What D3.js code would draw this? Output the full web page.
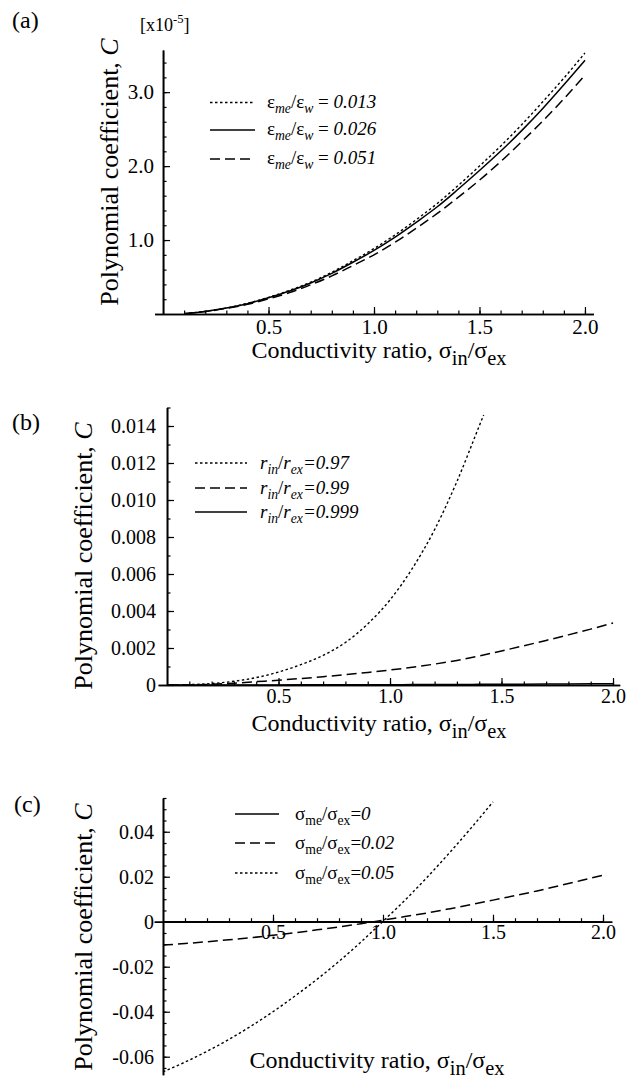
<!DOCTYPE html>
<html>
<head>
<meta charset="utf-8">
<script src="https://cdn.jsdelivr.net/npm/d3@7"></script>
<style>
  body { margin: 0; background: #fff; }
  svg, svg text { font-family: "Liberation Serif", "DejaVu Serif", "Times New Roman", Times, serif; }
</style>
</head>
<body>
<svg id="fig" width="634" height="1084"></svg>
<script>
// ---- panel (a): C [x1e-5] vs conductivity ratio, three eps_me/eps_w
const xA = [0.1, 0.2, 0.3, 0.4, 0.5, 0.6, 0.7, 0.8, 0.9, 1.0, 1.1, 1.2, 1.3, 1.4, 1.5, 1.6, 1.7, 1.8, 1.9, 2.0];
const cA013 = [0.005, 0.035, 0.08, 0.145, 0.225, 0.32, 0.43, 0.565, 0.72, 0.885, 1.07, 1.275, 1.495, 1.74, 2.0, 2.27, 2.56, 2.87, 3.19, 3.53];
const cA026 = [0.005, 0.035, 0.08, 0.14, 0.22, 0.31, 0.42, 0.55, 0.70, 0.86, 1.04, 1.24, 1.45, 1.69, 1.94, 2.20, 2.48, 2.78, 3.10, 3.43];
const cA051 = [0.005, 0.033, 0.075, 0.13, 0.205, 0.29, 0.395, 0.515, 0.655, 0.80, 0.97, 1.16, 1.36, 1.58, 1.81, 2.06, 2.33, 2.61, 2.91, 3.23];
const yTicksA = [1.0, 2.0, 3.0];
const yLabelsA = ['1.0', '2.0', '3.0'];

// ---- panel (b): three r_in/r_ex
const xB = [0, 0.1, 0.2, 0.3, 0.4, 0.5, 0.6, 0.7, 0.8, 0.9, 1.0, 1.1, 1.2, 1.3, 1.4, 1.5, 1.6, 1.7, 1.8, 1.9, 2.0];
const xB097 = [0, 0.1, 0.2, 0.3, 0.4, 0.5, 0.6, 0.7, 0.8, 0.9, 1.0, 1.1, 1.2, 1.3, 1.4, 1.42];
const cB097 = [0, 0.00002, 0.00008, 0.0002, 0.0004, 0.0007, 0.0011, 0.0016, 0.0023, 0.0033, 0.0046, 0.0063, 0.0084, 0.0110, 0.0140, 0.0146];
const cB099 = [0, 0.00001, 0.00004, 0.0001, 0.00018, 0.00026, 0.00035, 0.00045, 0.00056, 0.00068, 0.00081, 0.00096, 0.00113, 0.00133, 0.00157, 0.00184, 0.00212, 0.00241, 0.00271, 0.00302, 0.00335];
const cB0999 = [0, 0, 0.000001, 0.000002, 0.000003, 0.000005, 0.000007, 0.00001, 0.000012, 0.000015, 0.000018, 0.000022, 0.000026, 0.00003, 0.000035, 0.00004, 0.000046, 0.000052, 0.000058, 0.000065, 0.000072];
const yTicksB = [0, 0.002, 0.004, 0.006, 0.008, 0.010, 0.012, 0.014];
const yLabelsB = ['0', '0.002', '0.004', '0.006', '0.008', '0.010', '0.012', '0.014'];

// ---- panel (c): three sigma_me/sigma_ex
const xC = [0, 0.1, 0.2, 0.3, 0.4, 0.5, 0.6, 0.7, 0.8, 0.9, 1.0, 1.1, 1.2, 1.3, 1.4, 1.5, 1.6, 1.7, 1.8, 1.9, 2.0];
const xC005 = [0, 0.1, 0.2, 0.3, 0.4, 0.5, 0.6, 0.7, 0.8, 0.9, 1.0, 1.1, 1.2, 1.3, 1.4, 1.5];
const cC0 = [0, 0, 0, 0, 0, 0, 0, 0, 0, 0, 0, 0, 0, 0, 0, 0, 0, 0, 0, 0, 0];
const cC002 = [-0.0104, -0.0097, -0.0089, -0.0080, -0.0071, -0.0060, -0.0049, -0.0036, -0.0023, -0.0009, 0.0007, 0.0023, 0.0039, 0.0057, 0.0076, 0.0096, 0.0116, 0.0137, 0.0160, 0.0183, 0.0207];
const cC005 = [-0.0667, -0.0624, -0.0576, -0.0523, -0.0464, -0.0400, -0.0330, -0.0256, -0.0176, -0.0090, 0.0002, 0.0096, 0.0197, 0.0304, 0.0416, 0.0533];
const yTicksC = [-0.06, -0.04, -0.02, 0, 0.02, 0.04];
const yLabelsC = ['-0.06', '-0.04', '-0.02', '0', '0.02', '0.04'];

const xTicks = [0.5, 1.0, 1.5, 2.0];
const xLabels = ['0.5', '1.0', '1.5', '2.0'];

const FONT = '"Liberation Serif", "DejaVu Serif", "Times New Roman", Times, serif';
const svg = d3.select('#fig').attr('font-family', FONT);

const styles = {
  dotted: { dash: '2.5,2.5', width: 1.4 },
  solid: { dash: null, width: 1.5 },
  dashed: { dash: '10,5', width: 1.5 }
};

// writes text made of parts, with sub / superscripts via dy
function rich(text, parts, size, subScale) {
  let off = 0;
  text.attr('font-family', FONT);
  parts.forEach(p => {
    const ts = text.append('tspan').text(p.t);
    if (p.it) ts.attr('font-style', 'italic');
    let target = 0;
    if (p.sub) { target = size * 0.28; ts.attr('font-size', size * (subScale || 0.72)); }
    if (p.sup) { target = -size * 0.42; ts.attr('font-size', size * 0.7); }
    if (target - off !== 0) ts.attr('dy', target - off);
    off = target;
  });
}

const xTitle = [{ t: 'Conductivity ratio, σ' }, { t: 'in', sub: true }, { t: '/σ' }, { t: 'ex', sub: true }];
const yTitle = [{ t: 'Polynomial coefficient, ' }, { t: 'C', it: true }];

function drawPanel(p) {
  const g = svg.append('g');
  const x = p.x, y = p.y;

  // y axis: minor then major ticks, pointing inward
  g.append('g')
    .attr('transform', `translate(${x(0)},0)`)
    .call(d3.axisLeft(y).tickValues(p.yMinor).tickSize(-3.5).tickSizeOuter(0).tickFormat(''));
  g.append('g')
    .attr('class', 'ymaj')
    .attr('transform', `translate(${x(0)},0)`)
    .call(d3.axisLeft(y).tickValues(p.yTicks).tickSize(-7).tickSizeOuter(0)
      .tickPadding(p.yPad).tickFormat((d, i) => p.yLabels[i]));

  // x axis at C = 0
  g.append('g')
    .attr('transform', `translate(0,${y(0)})`)
    .call(d3.axisBottom(x).tickValues(d3.range(0.1, 2.01, 0.1)).tickSize(-3.5).tickSizeOuter(0).tickFormat(''));
  g.append('g')
    .attr('class', 'xmaj')
    .attr('transform', `translate(0,${y(0)})`)
    .call(d3.axisBottom(x).tickValues(xTicks).tickSize(-7).tickSizeOuter(0)
      .tickPadding(p.xPad).tickFormat((d, i) => xLabels[i]));

  g.selectAll('g').attr('font-family', FONT);
  g.selectAll('.domain').attr('stroke-width', 1.6);
  g.selectAll('.tick line').attr('stroke-width', 1.2);
  g.selectAll('.tick text')
    .attr('font-family', FONT)
    .attr('font-size', p.tickSize)
    .attr('fill', '#000');
  g.selectAll('.xmaj .tick text').attr('dy', '0.71em');

  // curves
  const line = d3.line().x(d => x(d[0])).y(d => y(d[1])).curve(d3.curveMonotoneX);
  p.series.forEach(s => {
    const st = styles[s.style];
    g.append('path')
      .datum(d3.zip(s.x, s.c))
      .attr('d', line)
      .attr('fill', 'none')
      .attr('stroke', '#000')
      .attr('stroke-width', st.width)
      .attr('stroke-dasharray', st.dash);
  });

  // legend
  p.series.forEach((s, i) => {
    const st = styles[s.style];
    const ly = p.legend.rows[i];
    g.append('line')
      .attr('x1', p.legend.x1).attr('x2', p.legend.x2)
      .attr('y1', ly).attr('y2', ly)
      .attr('stroke', '#000')
      .attr('stroke-width', st.width)
      .attr('stroke-dasharray', st.dash);
    const t = g.append('text')
      .attr('x', p.legend.tx)
      .attr('y', ly + p.legend.base)
      .attr('font-size', p.legend.size);
    rich(t, s.label, p.legend.size);
  });

  // panel tag
  g.append('text').attr('x', p.tag[0]).attr('y', p.tag[1])
    .attr('font-family', FONT)
    .attr('font-size', 24).text(p.name);

  // axis titles
  const yt = g.append('text')
    .attr('transform', `translate(${p.yTitle[0]},${p.yTitle[1]}) rotate(-90)`)
    .attr('text-anchor', 'middle')
    .attr('font-size', 26);
  rich(yt, yTitle, 26);

  const xt = g.append('text')
    .attr('x', p.xTitle[0]).attr('y', p.xTitle[1])
    .attr('text-anchor', 'middle')
    .attr('font-size', 24);
  rich(xt, xTitle, 24, 0.85);
  return g;
}

// (a)
const gA = drawPanel({
  name: '(a)', tag: [12, 28],
  x: d3.scaleLinear().domain([-0.04, 2.04]).range([154.6, 593.4]),
  y: d3.scaleLinear().domain([0, 3.57]).range([314, 50]),
  yTicks: yTicksA, yLabels: yLabelsA, yMinor: d3.range(0.2, 3.5, 0.2),
  tickSize: 21, yPad: 9, xPad: 5,
  yTitle: [118, 172], xTitle: [379, 358],
  legend: { x1: 210, x2: 255, tx: 267, base: 5, size: 19, rows: [102.5, 130, 159] },
  series: [
    { x: xA, c: cA013, style: 'dotted', label: [{ t: 'ε' }, { t: 'me', sub: true, it: true }, { t: '/ε' }, { t: 'w', sub: true, it: true }, { t: ' = ' }, { t: '0.013', it: true }] },
    { x: xA, c: cA026, style: 'solid', label: [{ t: 'ε' }, { t: 'me', sub: true, it: true }, { t: '/ε' }, { t: 'w', sub: true, it: true }, { t: ' = ' }, { t: '0.026', it: true }] },
    { x: xA, c: cA051, style: 'dashed', label: [{ t: 'ε' }, { t: 'me', sub: true, it: true }, { t: '/ε' }, { t: 'w', sub: true, it: true }, { t: ' = ' }, { t: '0.051', it: true }] }
  ]
});
const unit = gA.append('text').attr('x', 140).attr('y', 31).attr('font-size', 18);
rich(unit, [{ t: '[x10' }, { t: '-5', sup: true }, { t: ']' }], 18);

// (b)
drawPanel({
  name: '(b)', tag: [12, 430],
  x: d3.scaleLinear().domain([-0.04, 2.03]).range([158.1, 619.7]),
  y: d3.scaleLinear().domain([0, 0.015]).range([685, 407.5]),
  yTicks: yTicksB, yLabels: yLabelsB, yMinor: d3.range(0.001, 0.0151, 0.001),
  tickSize: 20, yPad: 11, xPad: 4,
  yTitle: [92, 556], xTitle: [379, 731],
  legend: { x1: 195, x2: 247, tx: 260, base: 6, size: 19, rows: [463, 488, 512] },
  series: [
    { x: xB097, c: cB097, style: 'dotted', label: [{ t: 'r', it: true }, { t: 'in', sub: true, it: true }, { t: '/' }, { t: 'r', it: true }, { t: 'ex', sub: true, it: true }, { t: '=0.97', it: true }] },
    { x: xB, c: cB099, style: 'dashed', label: [{ t: 'r', it: true }, { t: 'in', sub: true, it: true }, { t: '/' }, { t: 'r', it: true }, { t: 'ex', sub: true, it: true }, { t: '=0.99', it: true }] },
    { x: xB, c: cB0999, style: 'solid', label: [{ t: 'r', it: true }, { t: 'in', sub: true, it: true }, { t: '/' }, { t: 'r', it: true }, { t: 'ex', sub: true, it: true }, { t: '=0.999', it: true }] }
  ]
});

// (c)
drawPanel({
  name: '(c)', tag: [14, 812],
  x: d3.scaleLinear().domain([-0.04, 2.04]).range([154.2, 611.8]),
  y: d3.scaleLinear().domain([-0.068, 0.055]).range([1074.7, 798]),
  yTicks: yTicksC, yLabels: yLabelsC, yMinor: d3.range(-0.065, 0.0551, 0.005),
  tickSize: 20, yPad: 9, xPad: 3,
  yTitle: [92, 937], xTitle: [377, 1068],
  legend: { x1: 235, x2: 279, tx: 295, base: 6, size: 19, rows: [814, 843, 873] },
  series: [
    { x: xC, c: cC0, style: 'solid', label: [{ t: 'σ' }, { t: 'me', sub: true }, { t: '/σ' }, { t: 'ex', sub: true }, { t: '=' }, { t: '0', it: true }] },
    { x: xC, c: cC002, style: 'dashed', label: [{ t: 'σ' }, { t: 'me', sub: true }, { t: '/σ' }, { t: 'ex', sub: true }, { t: '=' }, { t: '0.02', it: true }] },
    { x: xC005, c: cC005, style: 'dotted', label: [{ t: 'σ' }, { t: 'me', sub: true }, { t: '/σ' }, { t: 'ex', sub: true }, { t: '=' }, { t: '0.05', it: true }] }
  ]
});
</script>
</body>
</html>
